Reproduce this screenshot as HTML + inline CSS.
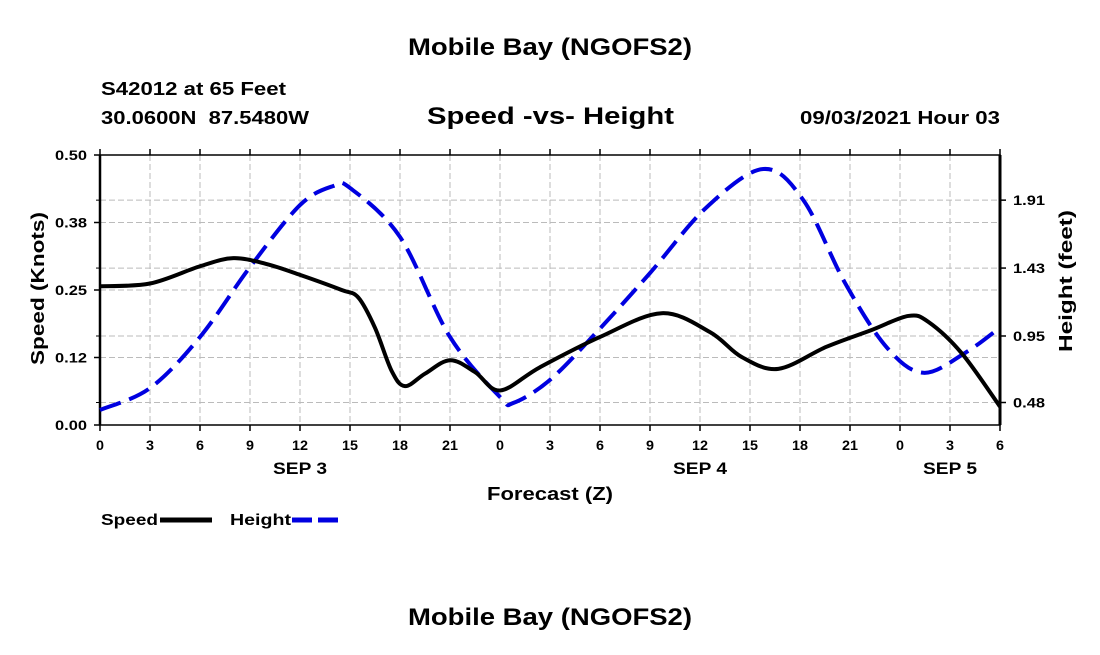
<!DOCTYPE html>
<html><head><meta charset="utf-8"><style>
body{margin:0;background:#fff;}
svg text{font-family:"Liberation Sans",sans-serif;font-weight:bold;fill:#000;}
</style></head><body>
<svg id="chart" width="1100" height="650" xmlns="http://www.w3.org/2000/svg">
<text x="408" y="55" font-size="24" textLength="284" lengthAdjust="spacingAndGlyphs">Mobile Bay (NGOFS2)</text>
<text x="101" y="95" font-size="18" textLength="185" lengthAdjust="spacingAndGlyphs">S42012 at 65 Feet</text>
<text x="101" y="124" font-size="18" textLength="208" lengthAdjust="spacingAndGlyphs" xml:space="preserve">30.0600N  87.5480W</text>
<text x="427" y="124" font-size="24" textLength="247" lengthAdjust="spacingAndGlyphs">Speed -vs- Height</text>
<text x="800" y="124" font-size="18" textLength="200" lengthAdjust="spacingAndGlyphs">09/03/2021 Hour 03</text>
<g id="grid"></g>
<g id="axes"></g>
<g id="series"></g>
<text transform="translate(44,365) rotate(-90)" font-size="18" textLength="153" lengthAdjust="spacingAndGlyphs">Speed (Knots)</text>
<text transform="translate(1072,352) rotate(-90)" font-size="18" textLength="142" lengthAdjust="spacingAndGlyphs">Height (feet)</text>
<text x="487" y="500" font-size="18" textLength="126" lengthAdjust="spacingAndGlyphs">Forecast (Z)</text>
<g>
<text x="101" y="525" font-size="16" textLength="57" lengthAdjust="spacingAndGlyphs">Speed</text>
<line x1="160" y1="520" x2="212" y2="520" stroke="#000" stroke-width="5"/>
<text x="230" y="525" font-size="16" textLength="61" lengthAdjust="spacingAndGlyphs">Height</text>
<line x1="292" y1="520" x2="342" y2="520" stroke="#0000e0" stroke-width="5" stroke-dasharray="20,6"/>
</g>
<text x="408" y="625" font-size="24" textLength="284" lengthAdjust="spacingAndGlyphs">Mobile Bay (NGOFS2)</text>
</svg>
<script>
const speedHours=[0,3,6,8,10,12,14.5,15.5,16.5,17.5,18.3,19.5,21,22.5,24,26.4,30,33.7,36.6,38.5,40.7,43.6,46.3,48.5,49.7,51.7,54];
const speedValues=[0.257,0.262,0.294,0.309,0.298,0.278,0.25,0.236,0.18,0.1,0.072,0.095,0.12,0.098,0.064,0.107,0.163,0.207,0.172,0.126,0.104,0.145,0.176,0.202,0.191,0.133,0.034];
const heightHours=[0,3,6,9,12,14,15,18,21,24,24.8,27,29.9,33,36.4,39.8,42.2,44.7,47.2,49.4,51.9,54];
const heightValues=[0.427,0.582,0.943,1.437,1.875,2.01,1.996,1.65,0.943,0.519,0.477,0.64,0.99,1.395,1.86,2.13,1.91,1.325,0.87,0.69,0.83,1.01];
const xTickLabels=["0","3","6","9","12","15","18","21","0","3","6","9","12","15","18","21","0","3","6"];
const speedTicks=[0,0.125,0.25,0.375,0.5];
const speedTickLabels=["0.00","0.12","0.25","0.38","0.50"];
const heightTicks=[0.48,0.95,1.43,1.91];
const dayLabels=["SEP 3","SEP 4","SEP 5"];
const dayHours=[12,36,51];

const L=100,R=1000,T=155,B=425,HMAX=54;
const HMIN=0.321,HTOP=0.321+4*0.477;
const x=h=>L+(R-L)*h/HMAX;
const yS=v=>B-(B-T)*v/0.5;
const yH=v=>B-(B-T)*(v-HMIN)/(HTOP-HMIN);
const NS="http://www.w3.org/2000/svg";
function mk(tag,attrs,parent){const e=document.createElementNS(NS,tag);for(const k in attrs)e.setAttribute(k,attrs[k]);parent.appendChild(e);return e;}
const grid=document.getElementById('grid'),axes=document.getElementById('axes'),series=document.getElementById('series');
xTickLabels.forEach((lab,i)=>{const px=x(i*3);
 if(i>0&&i<xTickLabels.length-1){const g=mk('line',{x1:px,x2:px,y1:T,y2:B,stroke:'#bbb','stroke-dasharray':'6,3','stroke-width':1},grid);}
 const t=mk('line',{x1:px,x2:px,y1:B,y2:B+6,stroke:'#000','stroke-width':1.5},axes);
 const tt=mk('line',{x1:px,x2:px,y1:T,y2:T-6,stroke:'#000','stroke-width':1.5},axes);
 const tx=mk('text',{x:px,y:B+25,'font-size':14,'text-anchor':'middle',textLength:lab.length*8,lengthAdjust:'spacingAndGlyphs'},axes);tx.textContent=lab;
});
dayLabels.forEach((d,i)=>{const t=mk('text',{x:x(dayHours[i]),y:B+49,'font-size':17,'text-anchor':'middle',textLength:54,lengthAdjust:'spacingAndGlyphs'},axes);t.textContent=d;});
speedTicks.forEach((v,i)=>{const py=yS(v);
 if(i>0&&i<speedTicks.length-1){const g=mk('line',{x1:L,x2:R,y1:py,y2:py,stroke:'#bbb','stroke-dasharray':'6,3'},grid);}
 const t=mk('line',{x1:L-6,x2:L,y1:py,y2:py,stroke:'#000','stroke-width':1.5},axes);
 const tx=mk('text',{x:L-13,y:py+5,'font-size':14,'text-anchor':'end',textLength:32,lengthAdjust:'spacingAndGlyphs'},axes);tx.textContent=speedTickLabels[i];
});
heightTicks.forEach(v=>{const py=yH(v);
 const g=mk('line',{x1:L,x2:R,y1:py,y2:py,stroke:'#bbb','stroke-dasharray':'6,3'},grid);
 const m=mk('line',{x1:L-4,x2:L,y1:py,y2:py,stroke:'#000','stroke-width':1},axes);
 const t=mk('line',{x1:R,x2:R+6,y1:py,y2:py,stroke:'#000','stroke-width':1.5},axes);
 const tx=mk('text',{x:R+13,y:py+5,'font-size':14,textLength:32,lengthAdjust:'spacingAndGlyphs'},axes);tx.textContent=v.toFixed(2);
});
const fr=mk('rect',{x:L,y:T,width:R-L,height:B-T,fill:'none',stroke:'#000','stroke-width':1.5},axes);
const ra=mk('line',{x1:R,x2:R,y1:T,y2:B,stroke:'#000','stroke-width':3},axes);
const la=mk('line',{x1:L,x2:L,y1:T,y2:B,stroke:'#000','stroke-width':2.5},axes);
function spline(pts){let d=`M${pts[0][0]},${pts[0][1]}`;
 for(let i=0;i<pts.length-1;i++){const p0=pts[Math.max(0,i-1)],p1=pts[i],p2=pts[i+1],p3=pts[Math.min(pts.length-1,i+2)];
  d+=` C${p1[0]+(p2[0]-p0[0])/6},${p1[1]+(p2[1]-p0[1])/6} ${p2[0]-(p3[0]-p1[0])/6},${p2[1]-(p3[1]-p1[1])/6} ${p2[0]},${p2[1]}`;}
 return d;}
const hp=heightHours.map((h,i)=>[x(h),yH(heightValues[i])]);
const hl=mk('path',{d:spline(hp),fill:'none',stroke:'#0000e0','stroke-width':4,'stroke-dasharray':'22,9'},series);


const sp=speedHours.map((h,i)=>[x(h),yS(speedValues[i])]);
const sl=mk('path',{d:spline(sp),fill:'none',stroke:'#000','stroke-width':4},series);


</script>
</body></html>
